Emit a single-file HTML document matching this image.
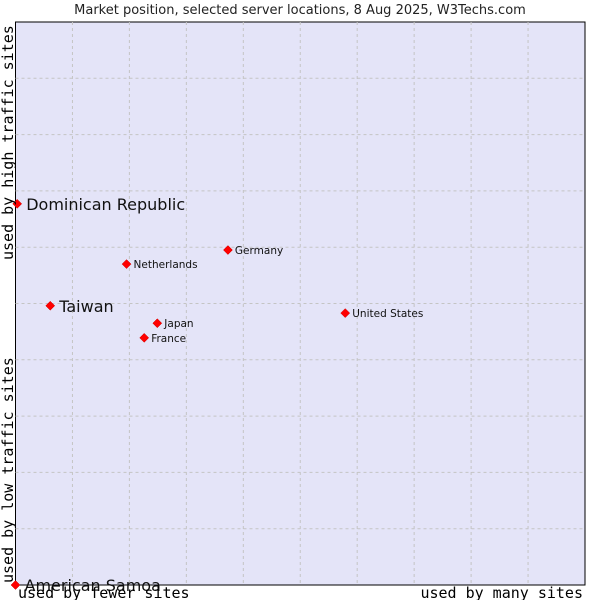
<!DOCTYPE html>
<html><head><meta charset="utf-8"><style>
body{margin:0;background:#fff;}
svg{display:block;font-family:"DejaVu Sans","Liberation Sans",sans-serif;}
</style></head><body>
<svg id="chart" width="600" height="600">
<text x="300" y="14" text-anchor="middle" font-size="13" fill="#222">Market position, selected server locations, 8 Aug 2025, W3Techs.com</text>
<rect x="15.5" y="22" width="569.5" height="563" fill="#e4e4f8" stroke="#000" stroke-width="1"/>
<g id="grid"></g>
<g id="points"></g>
<text transform="translate(13,260) rotate(-90)" font-family="'DejaVu Sans Mono','Liberation Mono',monospace" font-size="15" fill="#000">used by high traffic sites</text>
<text transform="translate(13,583) rotate(-90)" font-family="'DejaVu Sans Mono','Liberation Mono',monospace" font-size="15" fill="#000">used by low traffic sites</text>
<text x="18" y="598" font-family="'DejaVu Sans Mono','Liberation Mono',monospace" font-size="15" fill="#000">used by fewer sites</text>
<text x="583" y="598" text-anchor="end" font-family="'DejaVu Sans Mono','Liberation Mono',monospace" font-size="15" fill="#000">used by many sites</text>
</svg>
<script>
const countries=["Dominican Republic","Taiwan","Netherlands","Germany","Japan","France","United States","American Samoa"];
const xValues=[0.3,6.1,19.5,37.3,24.9,22.6,57.9,0];
const yValues=[67.7,49.6,57.0,59.5,46.5,43.9,48.3,0];
const highlighted=[true,true,false,false,false,false,false,true];
const L=15.5,R=585,T=22,B=585;
const sx=v=>L+(R-L)*v/100, sy=v=>B-(B-T)*v/100;
const NS="http://www.w3.org/2000/svg";
const grid=document.getElementById('grid'), pts=document.getElementById('points');
for(let i=1;i<10;i++){
  const v=document.createElementNS(NS,'line');
  
  
  v.setAttribute('x1',sx(i*10));v.setAttribute('x2',sx(i*10));v.setAttribute('y1',T);v.setAttribute('y2',B);
  v.setAttribute('stroke','#c4c4c4');v.setAttribute('stroke-dasharray','3,3');grid.appendChild(v);
  const h=document.createElementNS(NS,'line');
  
  
  h.setAttribute('y1',sy(i*10));h.setAttribute('y2',sy(i*10));h.setAttribute('x1',L);h.setAttribute('x2',R);
  h.setAttribute('stroke','#c4c4c4');h.setAttribute('stroke-dasharray','3,3');grid.appendChild(h);
}
countries.forEach((c,i)=>{
  const x=sx(xValues[i]),y=sy(yValues[i]);
  const d=document.createElementNS(NS,'path');
  
  
  d.setAttribute('d',`M${x-4.5},${y}L${x},${y-4.5}L${x+4.5},${y}L${x},${y+4.5}Z`);
  d.setAttribute('fill','#f00');d.setAttribute('stroke','#c00');d.setAttribute('stroke-width','0.5');pts.appendChild(d);
  const t=document.createElementNS(NS,'text');
  
  
  const big=highlighted[i];
  t.setAttribute('x',x+(big?9:7));t.setAttribute('y',y+(big?6:4));
  t.setAttribute('font-size',big?16:10.5);t.setAttribute('fill','#111');
  t.textContent=c;pts.appendChild(t);
});
</script>
</body></html>
